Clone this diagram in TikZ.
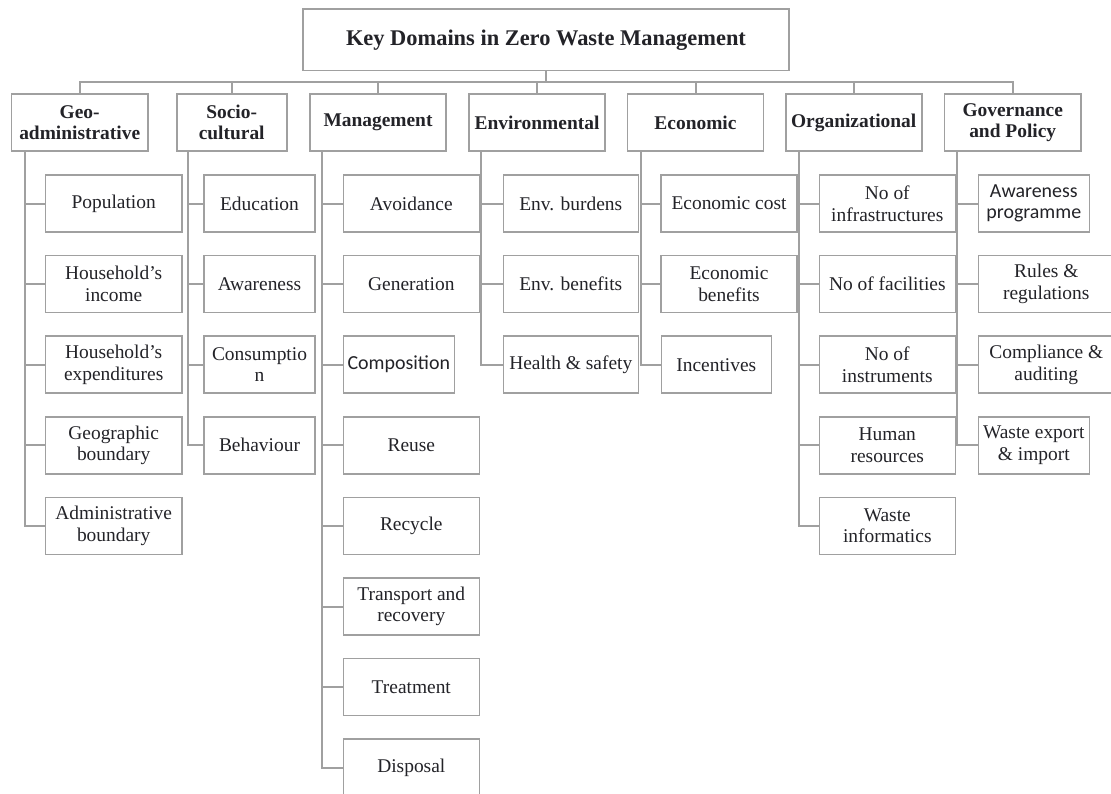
\documentclass[tikz,border=0pt]{standalone}
\usepackage{fontspec}
\setmainfont{Liberation Serif}
\newfontfamily\calfont{Carlito}
\definecolor{linegray}{RGB}{160,160,160}
\definecolor{ink}{RGB}{35,35,40}
\newcommand{\leaffont}{\fontsize{19.5}{21.7}\selectfont}
\newcommand{\domfont}{\fontsize{19.5}{21}\selectfont\bfseries}
\newcommand{\titlefont}{\fontsize{22.5}{25}\selectfont\bfseries}
\begin{document}
\begin{tikzpicture}[x=1bp,y=-1bp,
  cellbox/.style={draw=linegray, line width=1.6bp, inner sep=0pt, align=center, text=ink},
  headbox/.style={cellbox, minimum width=486bp, minimum height=61.7bp, font=\titlefont},
  domainbox/.style={cellbox, minimum width=136bp, minimum height=57bp, font=\domfont},
  leafbox/.style={cellbox, minimum width=136bp, minimum height=57bp, font=\leaffont},
  slim/.style={minimum width=111bp},
  sansleaf/.style={font=\calfont\fontsize{20}{21.7}\selectfont},
  link/.style={draw=linegray, line width=2bp}]
\useasboundingbox (0,0) rectangle (1111,794);
\clip (0,0) rectangle (1111,794);
\fill[white] (0,0) rectangle (1111,794);

% root
\node[headbox] (title) at (546,39.8) {Key Domains in Zero Waste Management};
\coordinate (bus) at (0,81.7);

% domains
\node[domainbox] (geo) at (79.7,122.5) {Geo-\\administrative};
\node[domainbox, minimum width=110bp] (soc) at (231.7,122.5) {Socio-\\cultural};
\node[domainbox] (man) at (378,122.5) {Management};
\node[domainbox] (env) at (537,122.5) {Environmental};
\node[domainbox] (eco) at (695.5,122.5) {Economic};
\node[domainbox] (org) at (853.7,122.5) {Organizational};
\node[domainbox, minimum width=136.7bp] (gov) at (1012.7,122.5) {Governance\\and Policy};

% Geo-administrative
\node[leafbox] (g1) at (113.7,203.5) {Population};
\node[leafbox] (g2) at (113.7,284.1) {Household's\\income};
\node[leafbox] (g3) at (113.7,364.7) {Household's\\expenditures};
\node[leafbox] (g4) at (113.7,445.3) {Geographic\\boundary};
\node[leafbox] (g5) at (113.7,525.9) {Administrative\\boundary};

% Socio-cultural
\node[leafbox, slim] (s1) at (259.5,203.5) {Education};
\node[leafbox, slim] (s2) at (259.5,284.1) {Awareness};
\node[leafbox, slim] (s3) at (259.5,364.7) {Consumptio\\n};
\node[leafbox, slim] (s4) at (259.5,445.3) {Behaviour};

% Management
\node[leafbox] (m1) at (411.3,203.5) {Avoidance};
\node[leafbox] (m2) at (411.3,284.1) {Generation};
\node[leafbox, slim, sansleaf] (m3) at (398.8,364.7) {Composition};
\node[leafbox] (m4) at (411.3,445.3) {Reuse};
\node[leafbox] (m5) at (411.3,525.9) {Recycle};
\node[leafbox] (m6) at (411.3,606.5) {Transport and\\recovery};
\node[leafbox] (m7) at (411.3,687.1) {Treatment};
\node[leafbox] (m8) at (411.3,767.7) {Disposal};

% Environmental
\node[leafbox, minimum width=135bp] (e1) at (570.8,203.5) {Env. burdens};
\node[leafbox, minimum width=135bp] (e2) at (570.8,284.1) {Env. benefits};
\node[leafbox, minimum width=135bp] (e3) at (570.8,364.7) {Health \& safety};

% Economic
\node[leafbox, minimum width=135.5bp] (c1) at (729,203.5) {Economic cost};
\node[leafbox, minimum width=135.5bp] (c2) at (729,284.1) {Economic\\benefits};
\node[leafbox, minimum width=110bp] (c3) at (716.3,364.7) {Incentives};

% Organizational
\node[leafbox] (o1) at (887.3,203.5) {No of\\infrastructures};
\node[leafbox] (o2) at (887.3,284.1) {No of facilities};
\node[leafbox] (o3) at (887.3,364.7) {No of\\instruments};
\node[leafbox] (o4) at (887.3,445.3) {Human\\resources};
\node[leafbox] (o5) at (887.3,525.9) {Waste\\informatics};

% Governance and Policy
\node[leafbox, slim, sansleaf] (p1) at (1033.8,203.5) {Awareness\\programme};
\node[leafbox] (p2) at (1046.3,284.1) {Rules \&\\regulations};
\node[leafbox] (p3) at (1046.3,364.7) {Compliance \&\\auditing};
\node[leafbox, slim] (p4) at (1033.8,445.3) {Waste export\\\& import};

% root to domains
\foreach \d in {geo,soc,man,env,eco,org,gov}
  \draw[link] (title.south) -- (title.south |- bus) -| (\d.north);

% domains to their items
\foreach \c in {g1,g2,g3,g4,g5}
  \draw[link] ([xshift=14bp]geo.south west) |- (\c.west);
\foreach \c in {s1,s2,s3,s4}
  \draw[link] ([xshift=11.6bp]soc.south west) |- (\c.west);
\foreach \c in {m1,m2,m3,m4,m5,m6,m7,m8}
  \draw[link] ([xshift=12.7bp]man.south west) |- (\c.west);
\foreach \c in {e1,e2,e3}
  \draw[link] ([xshift=12.7bp]env.south west) |- (\c.west);
\foreach \c in {c1,c2,c3}
  \draw[link] ([xshift=14bp]eco.south west) |- (\c.west);
\foreach \c in {o1,o2,o3,o4,o5}
  \draw[link] ([xshift=13.6bp]org.south west) |- (\c.west);
\foreach \c in {p1,p2,p3,p4}
  \draw[link] ([xshift=13bp]gov.south west) |- (\c.west);
\end{tikzpicture}
\end{document}
